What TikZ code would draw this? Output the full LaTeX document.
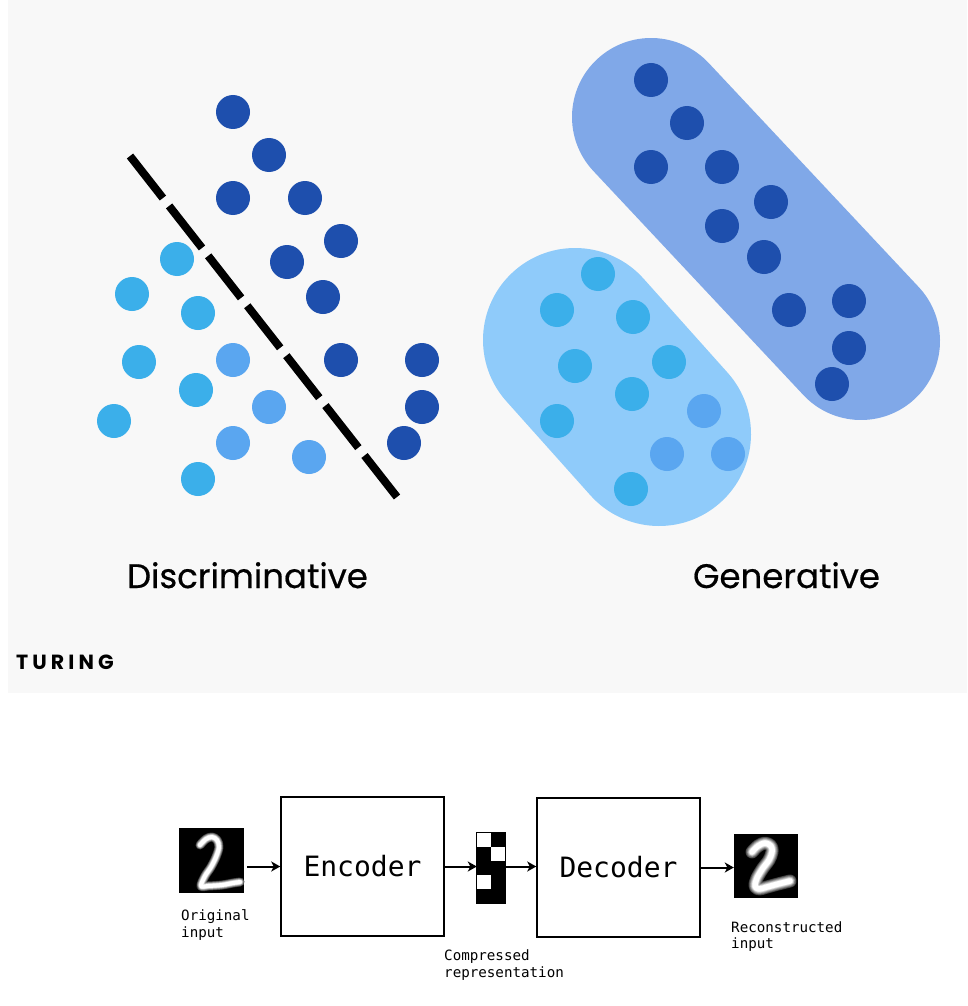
\documentclass[tikz,border=0pt]{standalone}
\usepackage{fontspec}
\usetikzlibrary{arrows.meta}
\newfontfamily\popfont[FakeBold=0.5]{Poppins}
\newfontfamily\popletter[LetterSpace=20]{Poppins}
\newfontfamily\monofont{DejaVu Sans Mono}
\definecolor{bgc}{HTML}{F8F8F8}
\definecolor{dkc}{HTML}{1E4FAD}
\definecolor{cyc}{HTML}{3BAFEA}
\definecolor{mdc}{HTML}{5AA6F0}
\definecolor{capdark}{HTML}{80A8E8}
\definecolor{caplight}{HTML}{8FCBFA}
\begin{document}
\begin{tikzpicture}[x=1pt,y=-1pt,
  boxnode/.style={draw=black, line width=1.5pt, minimum width=163pt, minimum height=139pt, inner sep=0pt, font=\monofont\fontsize{28}{32}\selectfont},
  imgnode/.style={fill=black, minimum width=65pt, minimum height=65pt, inner sep=0pt},
  lbl/.style={anchor=north west, inner sep=0pt, align=left, font=\monofont\fontsize{14.2}{17}\selectfont},
  arr/.style={line width=2pt, -{Stealth[length=9pt,width=10pt,inset=2.5pt]}},
  stroke1/.style={line cap=round, line join=round},
  bigtitle/.style={anchor=base, inner sep=0pt, font=\popfont\fontsize{34}{40}\selectfont}
]
\useasboundingbox (0,0) rectangle (967,1006);
\fill[white] (0,0) rectangle (967,1006);
\fill[bgc] (8,0) rectangle (967,693);

% ---- Discriminative dots
\foreach \p in {(233,112),(269,155),(233,198),(305,198),(341,241),(287,262),(323,297),(341,360),(422,360),(422,407),(404,443)}
  \fill[dkc] \p circle (17pt);
\foreach \p in {(177,259),(132,294),(198,313),(139,362),(196,390),(114,421),(198,479)}
  \fill[cyc] \p circle (17pt);
\foreach \p in {(233,360),(269,407),(233,443),(309,457)}
  \fill[mdc] \p circle (17pt);
\draw[line width=8pt, dash pattern=on 53.4pt off 10pt] (130,156) -- (397,497);

% ---- Generative capsules
\draw[capdark, line width=158pt, line cap=round] (651,117) -- (861,341);
\draw[caplight, line width=184pt, line cap=round] (575,340) -- (659,434);
\foreach \p in {(651,80),(687,123),(651,167),(722,167),(771,202),(722,226),(764,257),(789,310),(849,301),(849,348),(832,384)}
  \fill[dkc] \p circle (17pt);
\foreach \p in {(598,274),(557,310),(633,317),(575,366),(669,362),(632,394),(557,421),(631,489)}
  \fill[cyc] \p circle (17pt);
\foreach \p in {(704,411),(667,454),(728,454)}
  \fill[mdc] \p circle (17pt);

\node[bigtitle] (tdisc) at (247.5,588) {Discriminative};
\node[bigtitle] (tgen) at (786.5,588) {Generative};
\node[anchor=base west, inner sep=0pt, font=\popletter\bfseries\fontsize{20.5}{22}\selectfont] (turing) at (16,669) {TURING};

% ---- Autoencoder
\node[imgnode] (orig) at (211.5,860.5) {};
\node[boxnode] (enc) at (362.5,866.5) {Encoder};
\node[fill=black, minimum width=28pt, minimum height=70pt, inner sep=0pt] (comp) at (491,868) {};
\fill[white] (477,833) rectangle (491,847);
\fill[white] (491,847) rectangle (505,861);
\fill[white] (477,875) rectangle (491,889);
\draw[black, line width=1pt] (comp.south west) rectangle (comp.north east);
\node[boxnode] (dec) at (618.5,867.5) {Decoder};
\node[imgnode, minimum width=64pt, minimum height=64pt] (recon) at (766,866) {};

\draw[arr] (enc.west -| orig.east) ++(3pt,0) -- (enc.west);
\draw[arr] (enc.east) -- (enc.east -| comp.west);
\draw[arr] (enc.east -| comp.east) -- (enc.east -| dec.west);
\draw[arr] (dec.east) -- (dec.east -| recon.west);

% digits (soft white strokes)
\foreach \w/\c in {9/black!75, 8/black!60, 7/black!45, 6/black!30, 5/black!15, 4/white}
  \draw[stroke1, line width=\w pt, \c] plot[smooth, tension=0.55] coordinates {(200,845) (206,839) (212,837) (217,840) (219,847) (216,857) (211,867) (205,876) (201,886) (208,886) (222,885) (233,883) (240,882)};
\foreach \w/\c in {13/black!75, 11.5/black!60, 10/black!45, 8.5/black!30, 7/black!15, 5.5/white}
  \draw[stroke1, line width=\w pt, \c] plot[smooth, tension=0.55] coordinates {(752,852) (758,846) (765,843) (771,846) (772,852) (769,860) (763,868) (757,878) (755,886) (759,889) (767,887) (778,884) (790,881)};

\node[lbl] (lorig) at (181,909) {Original\\input};
\node[lbl] (lcomp) at (444,949) {Compressed\\representation};
\node[lbl] (lrec) at (731,921) {Reconstructed\\input};
\end{tikzpicture}
\end{document}
